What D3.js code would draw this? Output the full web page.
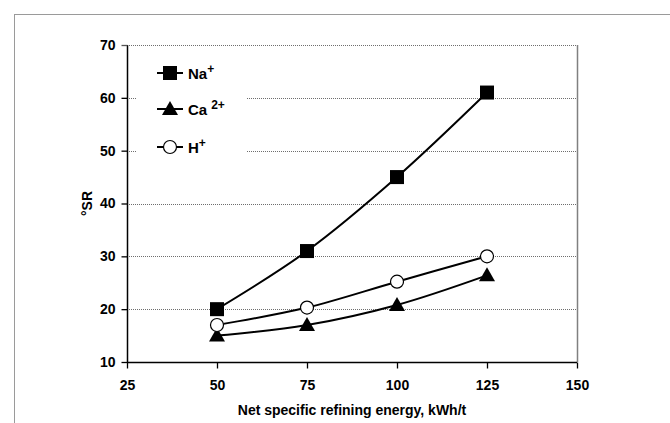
<!DOCTYPE html>
<html>
<head>
<meta charset="utf-8">
<script src="https://cdn.jsdelivr.net/npm/d3@7"></script>
<style>
  html, body { margin: 0; padding: 0; background: #fff; }
  svg { display: block; font-family: "Liberation Sans", Arial, sans-serif; }
</style>
</head>
<body>
<svg id="chart" width="670" height="423"></svg>
<script>
// Refining energy levels (kWh/t)
const energy = [50, 75, 100, 125];
// Drainage resistance (°SR) per counter-ion form
const naValues = [20, 31, 45, 61];
const caValues = [15, 17, 20.8, 26.4];
const hValues = [17, 20.3, 25.2, 30];
const xTicks = [25, 50, 75, 100, 125, 150];
const yTicks = [10, 20, 30, 40, 50, 60, 70];

const series = [
  { name: "Na", sup: "+", values: naValues, marker: "square" },
  { name: "Ca", sup: "2+", values: caValues, marker: "triangle" },
  { name: "H", sup: "+", values: hValues, marker: "circle" }
];

const svg = d3.select("#chart");
const W = 670, H = 423;
const plotLeft = 127, plotRight = 577, plotTop = 45, plotBottom = 362;

const x = d3.scaleLinear().domain([25, 150]).range([plotLeft, plotRight]);
const y = d3.scaleLinear().domain([10, 70]).range([plotBottom, plotTop]);

// Outer frame
svg.append("rect")
  .attr("x", 14.5).attr("y", 14.5)
  .attr("width", W - 14).attr("height", H)
  .attr("fill", "#fff").attr("stroke", "#9a9a9a").attr("stroke-width", 1);

// Horizontal dotted gridlines
svg.append("g")
  .selectAll("line")
  .data(yTicks.filter(d => d > 10))
  .join("line")
  .attr("x1", plotLeft).attr("x2", plotRight)
  .attr("y1", d => Math.round(y(d)) + 0.5).attr("y2", d => Math.round(y(d)) + 0.5)
  .attr("stroke", "#6e6e6e").attr("stroke-width", 1.2)
  .attr("stroke-dasharray", "1,1");

// Right edge of the plot area
svg.append("line")
  .attr("x1", plotRight + 0.5).attr("x2", plotRight + 0.5)
  .attr("y1", plotTop).attr("y2", plotBottom)
  .attr("stroke", "#808080").attr("stroke-width", 1.5);

// Legend background (covers gridlines)
svg.append("rect")
  .attr("x", 136).attr("y", 52)
  .attr("width", 111).attr("height", 122)
  .attr("fill", "#fff");

// Axes
const xAxis = d3.axisBottom(x).tickValues(xTicks).tickSize(6).tickPadding(12).tickFormat(d3.format("d"));
const yAxis = d3.axisLeft(y).tickValues(yTicks).tickSize(6).tickPadding(6).tickFormat(d3.format("d"));

const gx = svg.append("g").attr("transform", `translate(0,${plotBottom + 0.5})`).call(xAxis);
const gy = svg.append("g").attr("transform", `translate(${plotLeft + 0.5},0)`).call(yAxis);

[gx, gy].forEach(g => {
  g.select(".domain").attr("stroke", "#000").attr("stroke-width", 1.5);
  g.selectAll(".tick line").attr("stroke", "#000").attr("stroke-width", 1.3);
  g.selectAll(".tick text")
    .attr("fill", "#000")
    .style("font-family", "'Liberation Sans', Arial, sans-serif")
    .style("font-size", "14px")
    .style("font-weight", "bold");
});
gx.select(".domain").attr("d", `M${plotLeft},0H${plotRight}`);
gy.select(".domain").attr("d", `M0,${plotTop}V${plotBottom}`);
gy.selectAll(".tick").filter(d => d === 70).select("line").attr("stroke", "#555");

// Axis titles
svg.append("text")
  .attr("x", (plotLeft + plotRight) / 2).attr("y", 415)
  .attr("text-anchor", "middle")
  .style("font-size", "14px").style("font-weight", "bold")
  .text("Net specific refining energy, kWh/t");

svg.append("text")
  .attr("transform", `translate(92,${y(40)}) rotate(-90)`)
  .attr("text-anchor", "middle")
  .style("font-size", "14px").style("font-weight", "bold")
  .text("°SR");

// Series lines (smoothed)
const line = d3.line()
  .x((d, i) => x(energy[i]))
  .y(d => y(d))
  .curve(d3.curveCatmullRom.alpha(0.5));

function drawMarker(g, type, cx, cy) {
  if (type === "square") {
    g.append("rect").attr("x", cx - 7).attr("y", cy - 7)
      .attr("width", 14).attr("height", 14).attr("fill", "#000");
  } else if (type === "triangle") {
    g.append("path")
      .attr("d", `M${cx},${cy - 8}L${cx + 8},${cy + 6}L${cx - 8},${cy + 6}Z`)
      .attr("fill", "#000");
  } else {
    g.append("circle").attr("cx", cx).attr("cy", cy).attr("r", 6.5)
      .attr("fill", "#fff").attr("stroke", "#000").attr("stroke-width", 1.2);
  }
}

series.forEach(s => {
  svg.append("path")
    .datum(s.values)
    .attr("d", line)
    .attr("fill", "none")
    .attr("stroke", "#000")
    .attr("stroke-width", 2);
  const mg = svg.append("g");
  s.values.forEach((v, i) => drawMarker(mg, s.marker, x(energy[i]), y(v)));
});

// Legend
const legendY = [73, 109, 147];
series.forEach((s, i) => {
  const ly = legendY[i];
  const lg = svg.append("g");
  lg.append("line")
    .attr("x1", 157).attr("x2", 183)
    .attr("y1", ly).attr("y2", ly)
    .attr("stroke", "#000").attr("stroke-width", 2);
  drawMarker(lg, s.marker, 170, ly);
  const t = lg.append("text")
    .attr("x", 188).attr("y", ly + 5.5)
    .style("font-size", "15px").style("font-weight", "bold");
  t.append("tspan").text(s.name);
  t.append("tspan")
    .attr("dx", s.sup === "2+" ? 4 : 0)
    .attr("dy", -6)
    .style("font-size", "12px")
    .text(s.sup);
});
</script>
</body>
</html>
